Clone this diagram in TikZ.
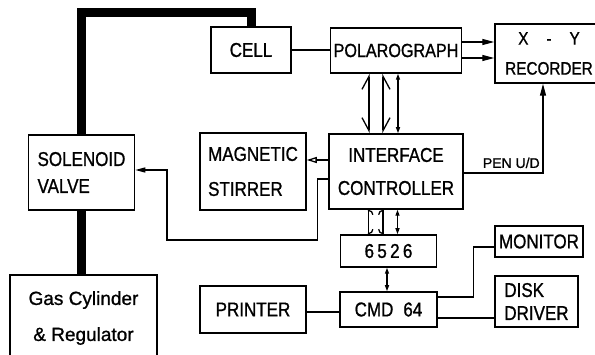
\documentclass[tikz,border=0pt]{standalone}
\usepackage{fontspec}
\setmainfont{Liberation Sans}[FakeBold=1, FakeStretch=0.85]
\newfontfamily\widefont{Liberation Sans}[FakeBold=1]
\usetikzlibrary{arrows.meta, positioning, calc}

\begin{document}
\begin{tikzpicture}[
    x=1pt, y=-1pt,
    blk/.style={draw, line width=1.5pt, inner sep=0pt, align=center,
        font=\fontsize{20}{30}\selectfont},
    wire/.style={line width=1.3pt},
    flow/.style={wire, -{Triangle[length=12pt, width=6pt]}},
    gasline/.style={line width=9pt},
    barbl/.style={wire, -{Straight Barb[harpoon, length=13pt, width=14pt]}},
    barbr/.style={wire, -{Straight Barb[harpoon, swap, length=13pt, width=14pt]}},
    arcl/.style={wire, -{Arc Barb[harpoon, length=5pt, width=10pt]}},
    arcr/.style={wire, -{Arc Barb[harpoon, swap, length=5pt, width=10pt]}},
    dbl/.style={wire, {Triangle[length=6pt, width=4pt]}-{Triangle[length=6pt, width=4pt]}},
]
\useasboundingbox (0,0) rectangle (595,355);

% ---- measuring chain ----
\node[blk, minimum width=80pt, minimum height=46pt] (cell) at (251,50) {CELL};
\node[blk, minimum width=131pt, minimum height=45pt, font=\fontsize{19}{20}\selectfont] (polaro) at (396,50.5)
    {POLAROGRAPH};
\node[blk, minimum width=108pt, minimum height=59pt, font=\fontsize{18}{30}\selectfont] (recorder) at (549,53.5)
    {X\quad-\quad Y\\RECORDER};

% ---- gas side ----
\node[blk, align=left, minimum width=106pt, minimum height=75pt, font=\fontsize{20}{27}\selectfont] (solenoid)
    at (81.5,172.5) {SOLENOID\\VALVE};
\node[blk, minimum width=147pt, minimum height=86pt, font=\widefont\fontsize{19}{36}\selectfont] (gascyl)
    at (83.5,318) {Gas Cylinder\\\& Regulator};

% ---- control ----
\node[blk, align=left, minimum width=106pt, minimum height=77pt, font=\fontsize{20}{35}\selectfont] (stirrer)
    at (253,171.5) {MAGNETIC\\STIRRER};
\node[blk, minimum width=134pt, minimum height=75pt, font=\fontsize{20}{33}\selectfont] (iface)
    at (396,171.5) {INTERFACE\\CONTROLLER};
\node[blk, minimum width=96pt, minimum height=32pt] (chip) at (388.5,251) {6\,5\,2\,6};
\node[blk, minimum width=97pt, minimum height=35pt] (cmd) at (388.5,309.5) {CMD\enspace 64};
\node[blk, minimum width=106pt, minimum height=47pt] (printer) at (253,309.5) {PRINTER};
\node[blk, minimum width=88pt, minimum height=31pt] (monitor) at (539,241.5) {MONITOR};
\node[blk, align=left, minimum width=83pt, minimum height=51pt, font=\fontsize{20}{23}\selectfont] (disk)
    at (536.5,301.5) {DISK\\DRIVER};

% gas tubing
\coordinate (gastop) at (150,13);
\draw[gasline] (solenoid.north) |- (gastop) -| (cell.north);
\draw[gasline] (solenoid.south) -- (solenoid.south |- gascyl.north);

% signal lines
\draw[wire] (cell.east) -- (cell.east -| polaro.west);
\draw[flow] ([yshift=8.5pt]polaro.east) -- ([yshift=8.5pt]polaro.east -| recorder.west);
\draw[flow] ([yshift=-7.5pt]polaro.east) -- ([yshift=-7.5pt]polaro.east -| recorder.west);
\draw[flow] ([yshift=-1.5pt]iface.east) -| node[pos=0.3, above=1pt, font=\widefont\fontsize{14}{15}\selectfont] (pen) {PEN U/D}
    ([xshift=-6pt]recorder.south);

% bus polarograph - interface
\coordinate (busa) at ($([xshift=-27pt]iface.north)!0.5!([xshift=-27pt]polaro.south)$);
\coordinate (busb) at ($([xshift=-13pt]iface.north)!0.5!([xshift=-13pt]polaro.south)$);
\draw[barbl] (busa) -- ([xshift=-27pt]polaro.south);
\draw[barbr] (busa) -- ([xshift=-27pt]iface.north);
\draw[barbr] (busb) -- ([xshift=-13pt]polaro.south);
\draw[barbl] (busb) -- ([xshift=-13pt]iface.north);
\draw[dbl] ([xshift=2pt]iface.north) -- ([xshift=2pt]polaro.south);

% bus interface - 6526
\coordinate (busc) at ($([xshift=-27.5pt]iface.south)!0.5!([xshift=-27.5pt]iface.south |- chip.north)$);
\coordinate (busd) at ($([xshift=-13pt]iface.south)!0.5!([xshift=-13pt]iface.south |- chip.north)$);
\draw[arcr] (busc) -- ([xshift=-27.5pt]iface.south);
\draw[arcl] (busc) -- ([xshift=-27.5pt]iface.south |- chip.north);
\draw[arcl] (busd) -- ([xshift=-13pt]iface.south);
\draw[arcr] (busd) -- ([xshift=-13pt]iface.south |- chip.north);
\draw[dbl] ([xshift=1.5pt]iface.south) -- ([xshift=1.5pt]iface.south |- chip.north);
\draw[dbl] ([xshift=-1.5pt]chip.south) -- ([xshift=-1.5pt]chip.south |- cmd.north);

\draw[wire, -{Triangle[open, length=10pt, width=6pt]}] ([yshift=11.5pt]iface.west) -- ([yshift=11.5pt]iface.west -| stirrer.east);
\coordinate (sbend) at (167,240);
\draw[wire, -{Triangle[length=10pt, width=5pt]}] ([yshift=-7.5pt]iface.west) -- ++(-11,0) |- (sbend)
    |- ([yshift=2.5pt]solenoid.east);

\draw[wire] ([yshift=-2.5pt]cmd.west) -- ([yshift=-2.5pt]cmd.west -| printer.east);
\draw[wire] ([yshift=12.5pt]cmd.east) -- ++(36,0) |- ([yshift=-5.5pt]monitor.west);
\draw[wire] ([yshift=-8.5pt]cmd.east) -- ([yshift=-8.5pt]cmd.east -| disk.west);

\end{tikzpicture}
\end{document}
